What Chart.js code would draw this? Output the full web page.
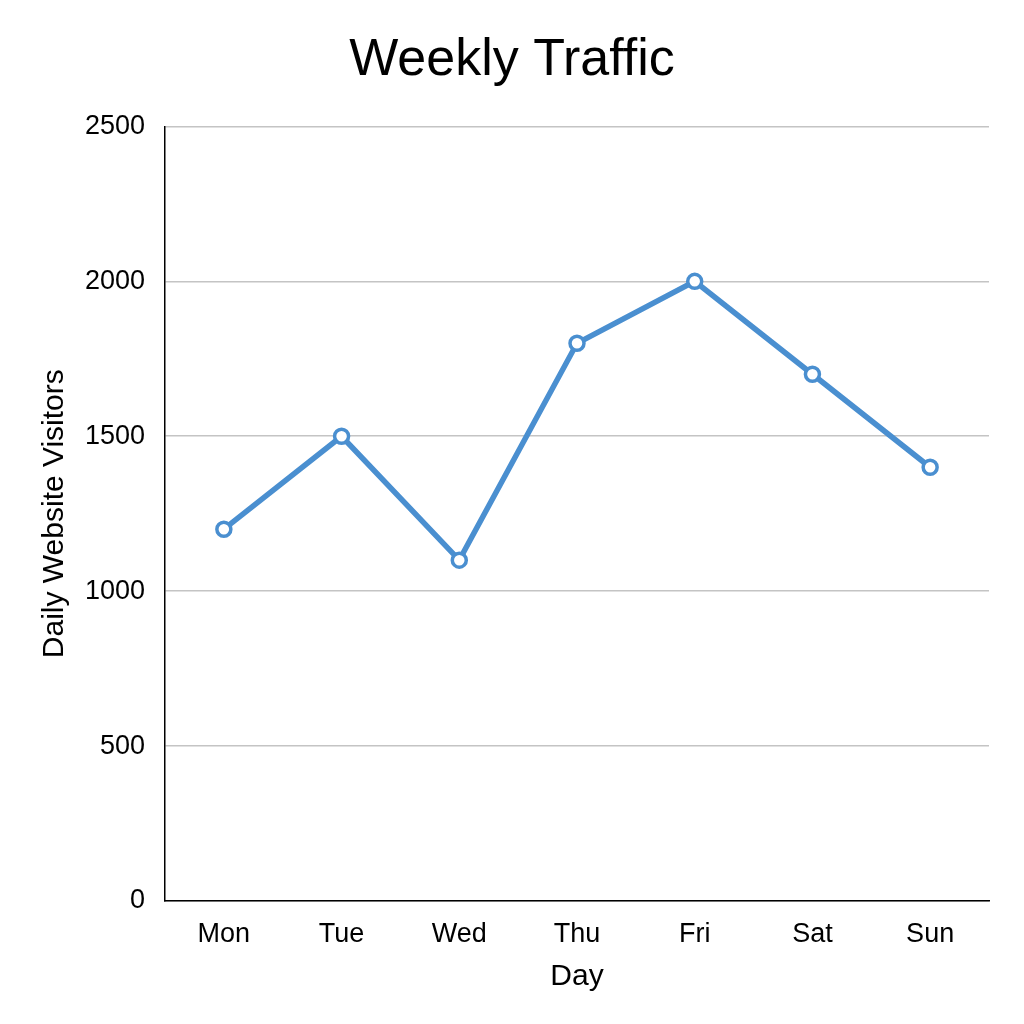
<!DOCTYPE html>
<html><head><meta charset="utf-8">
<script src="https://cdn.jsdelivr.net/npm/chart.js@4"></script>
<style>html,body{margin:0;padding:0;background:#fff;}#wrap{width:1024px;height:1024px;}</style>
</head><body><div id="wrap"><canvas id="c" width="1024" height="1024"></canvas></div>
<script>
const days = ['Mon','Tue','Wed','Thu','Fri','Sat','Sun'];
const visitors = [1200, 1500, 1100, 1800, 2000, 1700, 1400];
const yTicks = [0, 500, 1000, 1500, 2000, 2500];
const FONT = "'Liberation Sans', Arial, Helvetica, sans-serif";
new Chart(document.getElementById('c'), {
  type: 'line',
  data: { labels: days, datasets: [{
    label: 'Daily Website Visitors', data: visitors,
    borderColor: '#4a8fd0', borderWidth: 5.5, backgroundColor: '#ffffff',
    pointRadius: 7, pointBorderWidth: 3.5, pointBackgroundColor: '#ffffff', pointBorderColor: '#4a8fd0',
    tension: 0, fill: false
  }]},
  options: {
    responsive: false, animation: false, devicePixelRatio: 1,
    layout: { padding: { left: 35, right: 35, top: 0, bottom: 0 } },
    plugins: {
      legend: { display: false }, tooltip: { enabled: false },
      title: { display: true, text: 'Weekly Traffic', color: '#000',
        font: { family: FONT, size: 52, weight: 'normal' }, padding: { top: 29, bottom: 35 } }
    },
    scales: {
      x: {
        offset: true,
        grid: { display: false, drawTicks: false },
        border: { display: true, color: '#000', width: 1.5 },
        ticks: { color: '#000', font: { family: FONT, size: 27 }, padding: 17 },
        title: { display: true, text: 'Day', color: '#000', font: { family: FONT, size: 30 }, padding: { top: 0, bottom: 29 } },
        afterFit: s => { s.height = 123; }
      },
      y: {
        min: 0, max: 2500,
        afterBuildTicks: s => { s.ticks = yTicks.map(v => ({ value: v })); },
        grid: { color: '#c4c4c4', lineWidth: 1.5, drawTicks: false },
        border: { display: true, color: '#000', width: 1.5 },
        ticks: { color: '#000', font: { family: FONT, size: 27 }, padding: 20, callback: v => String(v) },
        title: { display: true, text: 'Daily Website Visitors', color: '#000', font: { family: FONT, size: 30 }, padding: { top: 2, bottom: 0 } },
        afterFit: s => { s.width = 130; }
      }
    }
  }
});
</script></body></html>
